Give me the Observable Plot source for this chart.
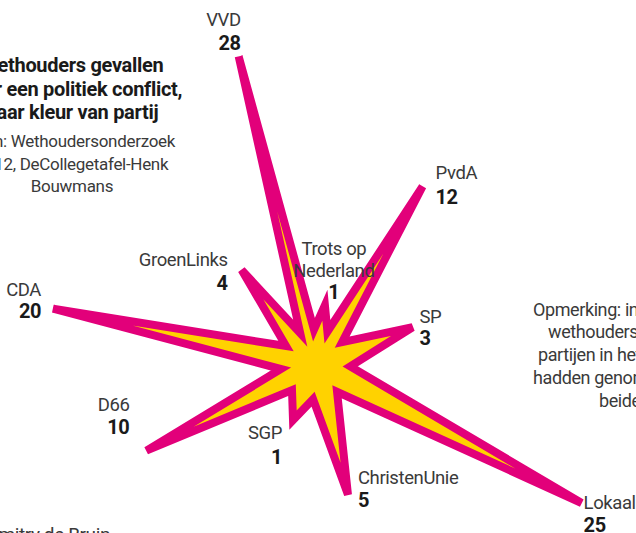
<!DOCTYPE html>
<html><head><meta charset="utf-8">
<script src="https://cdn.jsdelivr.net/npm/d3@7"></script>
<script src="https://cdn.jsdelivr.net/npm/@observablehq/plot@0.6"></script>
<style>
body{margin:0;background:#fff;}
#wrap{position:relative;width:636px;height:533px;overflow:hidden;font-family:Roboto,sans-serif;color:#3a3a3a;letter-spacing:-0.4px;}
#chart{position:absolute;left:0;top:0;}
.title{position:absolute;left:-78px;width:300px;top:54px;text-align:center;font-weight:bold;font-size:20px;line-height:23.5px;color:#1a1a1a;letter-spacing:-0.3px;}
.source{position:absolute;left:-78px;width:300px;top:130px;text-align:center;font-size:17px;line-height:22.5px;letter-spacing:-0.3px;}
.note div{position:absolute;white-space:nowrap;font-size:18px;}
.credit{position:absolute;left:-190px;width:300px;top:523px;text-align:right;font-size:19px;}
</style></head>
<body>
<div id="wrap">
 <div id="chart"></div>
 <div class="title">Wethouders gevallen<br>door een politiek conflict,<br>naar kleur van partij</div>
 <div class="source">Bron: Wethoudersonderzoek<br>2012, DeCollegetafel-Henk<br>Bouwmans</div>
 <div class="note">
  <div style="left:533px;top:299px">Opmerking: in twee gevallen</div>
  <div style="left:548px;top:321px">wethouders van twee</div>
  <div style="left:538px;top:344px">partijen in het college</div>
  <div style="left:533px;top:367px">hadden genomen ontslag</div>
  <div style="left:599px;top:390px">beide</div>
 </div>
 <div class="credit">Infographic: Dimitry de Bruin</div>
</div>
<script>
// Data
const parties  = ["Trots op Nederland","PvdA","SP","Lokaal","ChristenUnie","SGP","D66","CDA","GroenLinks","VVD"];
const counts   = [1, 12, 3, 25, 5, 1, 10, 20, 4, 28];
const bearings = [9, 31, 69, 117.5, 166, 202, 243, 282, 322, 346]; // compass direction of each spike (degrees)

// Layout / style (not data)
const W = 636, H = 533, K = 60, CX = 315, CY = 364;
const valleyR = 0.58;
const magenta = "#E2007A", yellow = "#FFD200";
const labelLayout = {
  "VVD":                {anchor:"end",    dx:2,   ny:-30, vy:-6},
  "PvdA":               {anchor:"start",  dx:13,  ny:-7,  vy:18},
  "Trots op Nederland": {anchor:"middle", dx:9,   ny:-28, vy:-6},
  "SP":                 {anchor:"start",  dx:7,   ny:-4,  vy:18},
  "Lokaal":             {anchor:"start",  dx:2,   ny:6,   vy:29},
  "ChristenUnie":       {anchor:"start",  dx:10,  ny:-11, vy:12},
  "SGP":                {anchor:"end",    dx:-11, ny:19,  vy:44},
  "D66":                {anchor:"end",    dx:-17, ny:-40, vy:-17},
  "CDA":                {anchor:"end",    dx:-12, ny:-13, vy:9},
  "GroenLinks":         {anchor:"end",    dx:-14, ny:-4,  vy:20}
};
const display = n => n === "Trots op Nederland" ? "Trots op\nNederland" : n;

const rad = d => d * Math.PI / 180;
const spikes = parties.map((p, i) => {
  const r = Math.sqrt(counts[i]);
  return {party: p, count: counts[i], bearing: bearings[i],
          x: r * Math.sin(rad(bearings[i])), y: r * Math.cos(rad(bearings[i]))};
});
const star = [];
spikes.forEach((s, i) => {
  star.push({x: s.x, y: s.y});
  const next = spikes[(i + 1) % spikes.length];
  let b2 = next.bearing; if (b2 < s.bearing) b2 += 360;
  const mid = (s.bearing + b2) / 2;
  star.push({x: valleyR * Math.sin(rad(mid)), y: valleyR * Math.cos(rad(mid))});
});
const labels = spikes.map(s => {
  const L = labelLayout[s.party];
  return {...s, anchor: L.anchor, lx: s.x + L.dx / K, ny: s.y - L.ny / K, vy: s.y - L.vy / K};
});

const font = 'Roboto,sans-serif';
const textMarks = [];
for (const a of ["start", "middle", "end"]) {
  const d = labels.filter(l => l.anchor === a);
  textMarks.push(Plot.text(d, {x: "lx", y: "ny", text: l => display(l.party), textAnchor: a, lineAnchor: "bottom",
    lineHeight: 1.2, fontSize: 18.5, fill: "#3a3a3a"}));
  textMarks.push(Plot.text(d, {x: "lx", y: "vy", text: "count", textAnchor: a, lineAnchor: "bottom",
    fontSize: 20, fontWeight: "bold", fill: "#1a1a1a"}));
}

const chart = Plot.plot({
  width: W, height: H, margin: 0,
  style: {fontFamily: font, background: "transparent", letterSpacing: "-0.4px"},
  x: {domain: [-CX / K, (W - CX) / K], axis: null},
  y: {domain: [-(H - CY) / K, CY / K], axis: null},
  marks: [
    Plot.line(star, {x: "x", y: "y", curve: "linear-closed", fill: yellow, stroke: magenta,
      strokeWidth: 8, strokeLinejoin: "miter", strokeMiterlimit: 4}),
    ...textMarks
  ]
});
document.getElementById("chart").append(chart);
</script>
</body></html>
